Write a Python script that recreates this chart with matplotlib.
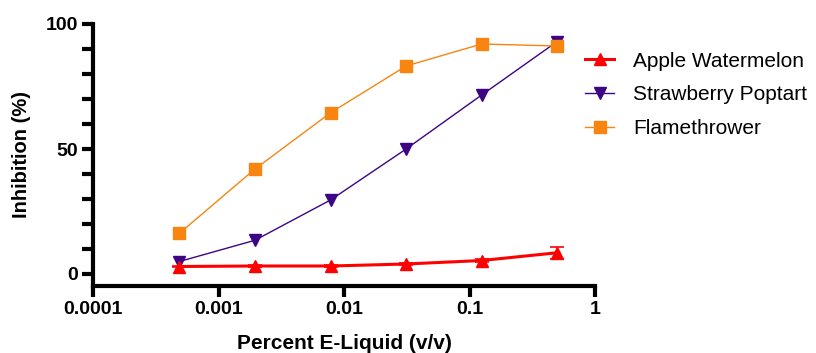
import matplotlib
matplotlib.use("Agg")
import matplotlib.pyplot as plt
from matplotlib.lines import Line2D
import numpy as np

plt.rcParams['font.family'] = ['Liberation Sans', 'DejaVu Sans']

conc = [0.00048828125, 0.001953125, 0.0078125, 0.03125, 0.125, 0.5]
apple = [3.0, 3.2, 3.2, 4.0, 5.4, 8.5]
apple_err = [0.3, 0.3, 0.3, 0.4, 0.5, 2.3]
strawberry = [5.0, 13.5, 29.6, 50.0, 71.6, 93.0]
flame = [16.3, 42.0, 64.5, 83.2, 92.0, 91.2]

labels = ["Apple Watermelon", "Strawberry Poptart", "Flamethrower"]
colors = ["#FF0000", "#3D0484", "#F7850F"]

fig = plt.figure(figsize=(8.16, 3.53), dpi=100)
ax = fig.add_axes([93/816, 1-286/353, (595-93)/816, (286-24)/353])

ax.errorbar(conc, apple, yerr=apple_err, color=colors[0], marker='^', ms=8, lw=2.2,
            capsize=5, capthick=1.2, elinewidth=1.2)
ax.plot(conc, strawberry, color=colors[1], marker='v', ms=8, lw=1.0)
ax.plot(conc, flame, color=colors[2], marker='s', ms=9, lw=1.0)

handles = [
    Line2D([], [], color=colors[0], marker='^', ms=8, lw=2.2),
    Line2D([], [], color=colors[1], marker='v', ms=8, lw=1.0),
    Line2D([], [], color=colors[2], marker='s', ms=9, lw=1.0),
]

ax.set_xscale('log')
ax.set_xlim(0.0001, 1)
ax.set_ylim(-4.8, 100)
ax.set_xticks([0.0001, 0.001, 0.01, 0.1, 1])
ax.set_xticklabels(["0.0001", "0.001", "0.01", "0.1", "1"])
ax.xaxis.set_minor_locator(matplotlib.ticker.NullLocator())
ax.set_yticks([0, 50, 100])
ax.set_yticks(np.arange(0, 101, 10), minor=True)

for s in ['top', 'right']:
    ax.spines[s].set_visible(False)
for s in ['left', 'bottom']:
    ax.spines[s].set_linewidth(3)
ax.tick_params(axis='both', which='major', width=3, length=8, labelsize=14, pad=3)
ax.tick_params(axis='y', which='minor', width=3, length=8)
for lab in ax.get_xticklabels() + ax.get_yticklabels():
    lab.set_fontweight('bold')

ax.set_xlabel("Percent E-Liquid (v/v)", fontsize=15, fontweight='bold', labelpad=11)
ax.set_ylabel("Inhibition (%)", fontsize=14.5, fontweight='bold', labelpad=10)

ax.legend(handles=handles, labels=labels, loc='upper left',
          bbox_to_anchor=(0.98, 0.895), frameon=False, fontsize=15,
          borderaxespad=0, borderpad=0,
          handlelength=1.4, labelspacing=0.71, handletextpad=0.9)

fig.savefig("out.png", dpi=100)
